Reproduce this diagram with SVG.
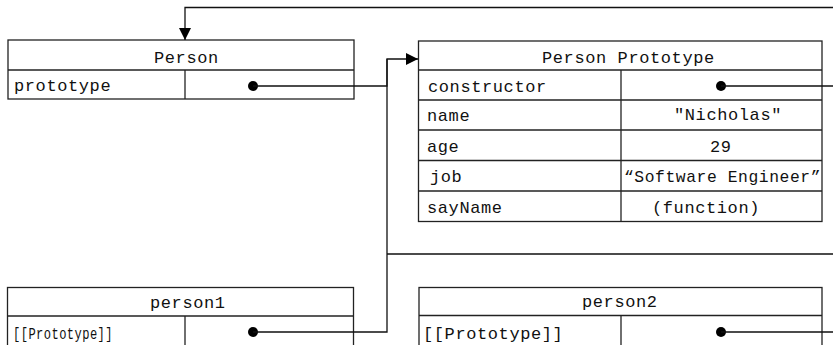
<svg xmlns="http://www.w3.org/2000/svg" width="833" height="345" viewBox="0 0 833 345">
  <style>
    .box { fill: #ffffff; stroke: #222222; stroke-width: 1.3; }
    .sep { stroke: #222222; stroke-width: 1.3; fill: none; }
    .t { font-family: "Liberation Mono", "Courier New", monospace; font-size: 17px; letter-spacing: 0.6px; fill: #111111; }
    .conn { fill: none; stroke: #111111; stroke-width: 1.3; }
    .dot { fill: #000000; }
  </style>
  <defs>
    <marker id="arrow" markerUnits="userSpaceOnUse" markerWidth="12" markerHeight="12" refX="12" refY="6" orient="auto">
      <path d="M0,0 L12,6 L0,12 z" fill="#000000"/>
    </marker>
  </defs>
  <rect width="833" height="345" fill="#ffffff"/>

  <g id="person">
    <rect class="box" x="8" y="40" width="346" height="59"/>
    <line class="sep" x1="8" y1="70" x2="354" y2="70"/>
    <line class="sep" x1="185" y1="70" x2="185" y2="99"/>
    <text class="t" x="154" y="63">Person</text>
    <text class="t" x="14" y="91">prototype</text>
    <circle class="dot" cx="253" cy="86" r="5"/>
  </g>

  <g id="person-prototype">
    <rect class="box" x="418.5" y="41" width="403.5" height="180.5"/>
    <line class="sep" x1="418.5" y1="70" x2="822" y2="70"/>
    <line class="sep" x1="418.5" y1="100" x2="822" y2="100"/>
    <line class="sep" x1="418.5" y1="130" x2="822" y2="130"/>
    <line class="sep" x1="418.5" y1="160.5" x2="822" y2="160.5"/>
    <line class="sep" x1="418.5" y1="191" x2="822" y2="191"/>
    <line class="sep" x1="621" y1="70" x2="621" y2="221.5"/>
    <text class="t" x="542" y="63">Person Prototype</text>
    <text class="t" x="428" y="92">constructor</text>
    <text class="t" x="427" y="121">name</text>
    <text class="t" x="427" y="152">age</text>
    <text class="t" x="430" y="182">job</text>
    <text class="t" x="427" y="213">sayName</text>
    <circle class="dot" cx="721" cy="86" r="5"/>
    <text class="t" x="674" y="120">"Nicholas"</text>
    <text class="t" x="710" y="152">29</text>
    <text class="t" x="624" y="182" textLength="197" lengthAdjust="spacingAndGlyphs">“Software Engineer”</text>
    <text class="t" x="652" y="213">(function)</text>
  </g>

  <g id="person1">
    <rect class="box" x="7.5" y="287.5" width="346" height="70"/>
    <line class="sep" x1="7.5" y1="316" x2="353.5" y2="316"/>
    <line class="sep" x1="185" y1="316" x2="185" y2="345"/>
    <text class="t" x="13" y="339" textLength="100" lengthAdjust="spacingAndGlyphs">[[Prototype]]</text>
    <text class="t" x="150" y="308">person1</text>
    <circle class="dot" cx="253" cy="332" r="5"/>
  </g>

  <g id="person2">
    <rect class="box" x="419" y="287.5" width="403" height="70"/>
    <line class="sep" x1="419" y1="315.5" x2="822" y2="315.5"/>
    <line class="sep" x1="621" y1="315.5" x2="621" y2="345"/>
    <text class="t" x="582" y="307">person2</text>
    <text class="t" x="423" y="339">[[Prototype]]</text>
    <circle class="dot" cx="721" cy="332" r="5"/>
  </g>

  <g id="connectors">
    <path class="conn" d="M721,86 H840 V7.5 H185 V40" marker-end="url(#arrow)"/>
    <path class="conn" d="M253,86 H387 V59 H418" marker-end="url(#arrow)"/>
    <path class="conn" d="M253,332 H387 V59"/>
    <path class="conn" d="M721,332 H840 V254 H387"/>
  </g>
</svg>
